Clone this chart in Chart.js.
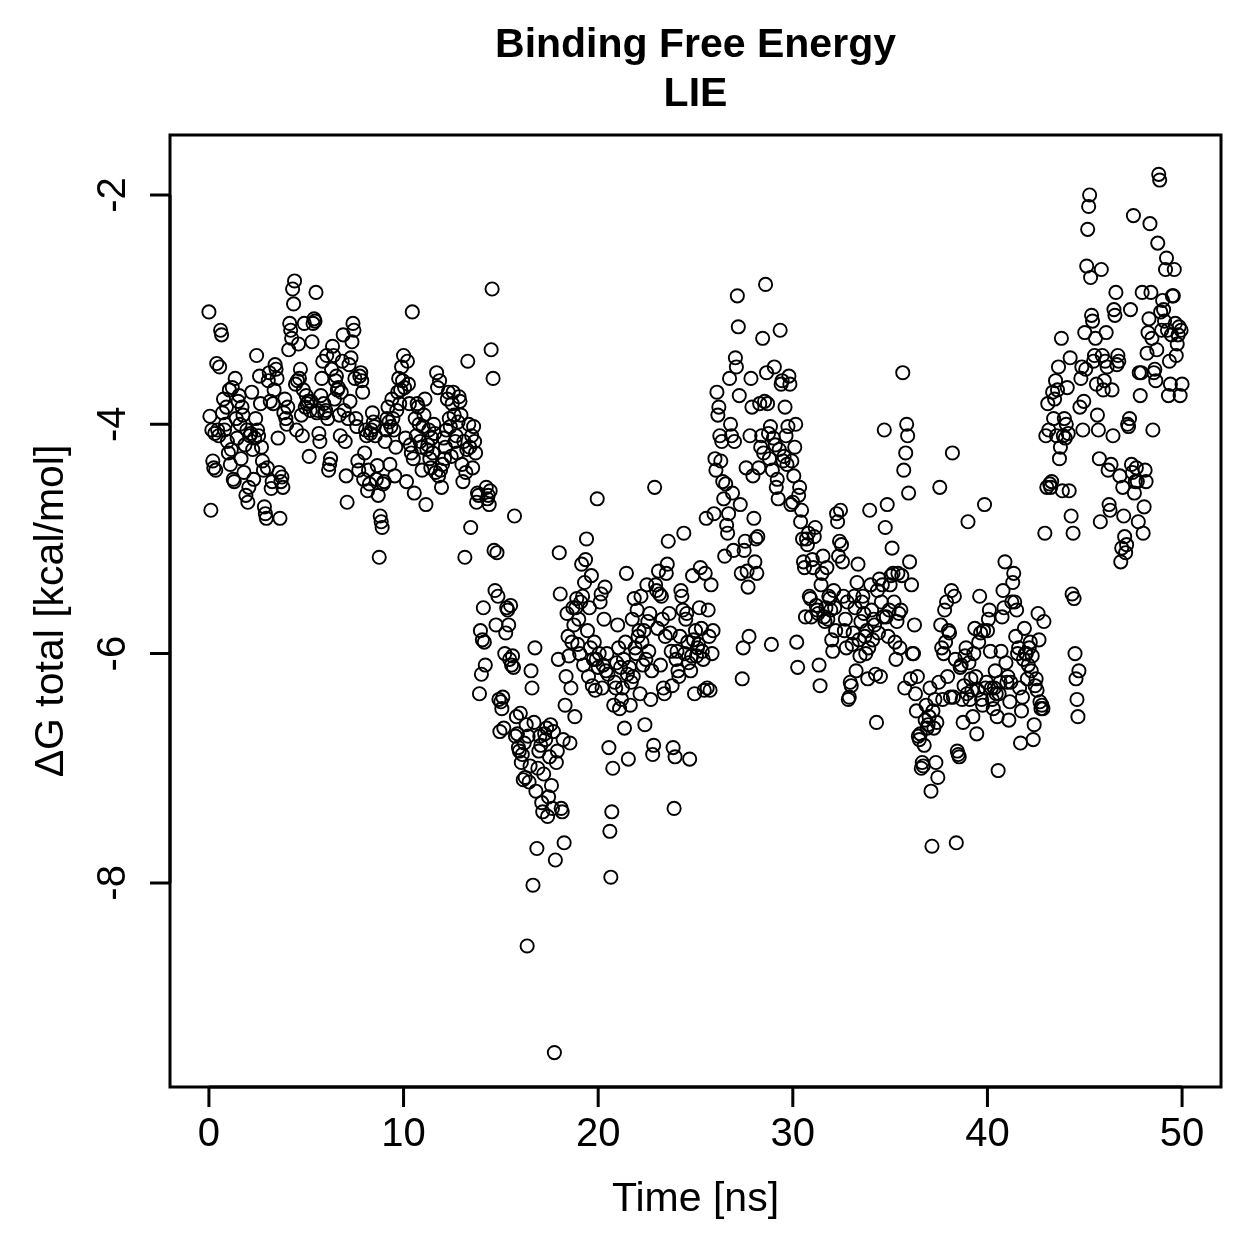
<!DOCTYPE html>
<html>
<head>
<meta charset="utf-8">
<script src="https://cdn.jsdelivr.net/npm/chart.js@4.4.0/dist/chart.umd.min.js"></script>
<style>
  html, body { margin: 0; padding: 0; background: #ffffff; }
  #wrap { width: 1259px; height: 1259px; }
</style>
</head>
<body>
<div id="wrap"><canvas id="lieCanvas" width="1259" height="1259"></canvas></div>
<script>
// Binding free energy (LIE), one value every 0.05 ns
const timeStep = 0.05;

const dgPart1 = [ // 0 - 10 ns
  -3.02, -3.93, -4.75, -4.05, -4.32, -4.38, -4.08, -4.40, -3.47, -4.05, -4.10, -3.50, -3.18, -3.22, -3.90, -3.78, -4.05, -4.00, -3.85, -4.15,
  -4.25, -3.70, -4.35, -4.22, -3.68, -4.48, -4.50, -3.60, -3.95, -4.12, -3.80, -3.75, -4.00, -4.30, -3.85, -3.92, -4.42, -4.18, -4.62, -4.05,
  -4.68, -4.55, -4.10, -4.08, -3.72, -4.22, -4.48, -4.12, -3.95, -3.40, -4.05, -4.10, -3.58, -3.82, -4.20, -4.32, -4.40, -4.72, -4.78, -4.82,
  -4.38, -3.62, -3.55, -3.80, -4.56, -4.50, -3.82, -3.70, -3.48, -3.52, -3.60, -4.12, -4.42, -4.82, -4.50, -4.46, -4.55, -3.90, -3.78, -3.95,
  -4.00, -3.85, -3.35, -3.12, -3.18, -3.25, -2.82, -2.95, -2.75, -3.65, -4.05, -3.62, -3.30, -3.60, -3.52, -3.92, -4.10, -3.70, -3.12, -3.85,
  -3.75, -3.82, -3.80, -4.28, -3.88, -3.80, -3.28, -3.12, -3.08, -3.10, -2.85, -3.90, -3.88, -4.08, -4.15, -3.75, -3.60, -3.45, -3.82, -3.90,
  -3.88, -3.40, -3.95, -4.40, -4.35, -4.30, -3.52, -3.32, -3.40, -3.78, -3.62, -3.58, -3.70, -3.68, -3.92, -4.10, -3.72, -3.45, -3.22, -3.88,
  -4.15, -4.45, -4.68, -3.95, -3.48, -3.80, -3.42, -3.28, -3.12, -3.18, -3.60, -3.95, -4.02, -4.32, -4.40, -3.58, -3.55, -3.62, -3.72, -4.48,
  -4.25, -4.05, -4.10, -4.58, -4.40, -4.52, -4.08, -4.05, -3.90, -3.98, -4.02, -4.10, -4.48, -4.36, -4.62, -5.16, -4.80, -4.85, -4.90, -4.52,
  -4.50, -4.15, -4.05, -3.95, -3.85, -3.98, -4.35, -4.02, -3.78, -3.95, -4.05, -4.45, -4.20, -3.88, -3.72, -3.60, -3.82, -3.70, -3.50, -3.62
];

const dgPart2 = [ // 10 - 20 ns
  -3.40, -3.68, -4.12, -4.50, -3.45, -3.65, -3.82, -4.18, -4.25, -3.02, -4.30, -4.60, -3.95, -4.10, -3.82, -3.85, -4.00, -4.15, -4.20, -4.40,
  -4.02, -3.92, -3.78, -4.70, -4.22, -4.18, -4.05, -4.30, -4.38, -4.12, -4.25, -4.00, -4.08, -4.42, -3.55, -3.68, -4.45, -3.62, -4.40, -4.55,
  -4.35, -4.12, -4.30, -4.20, -4.05, -3.78, -3.72, -3.95, -4.02, -4.28, -3.82, -3.72, -3.92, -4.15, -4.10, -4.25, -3.98, -3.76, -3.80, -3.92,
  -4.35, -4.50, -4.15, -5.16, -4.42, -4.22, -3.45, -4.00, -4.20, -4.90, -4.10, -4.38, -4.02, -4.15, -4.25, -4.68, -4.60, -4.62, -6.35, -5.80,
  -6.18, -5.88, -5.60, -5.90, -6.10, -4.55, -4.65, -4.62, -4.70, -4.58, -3.35, -2.82, -3.60, -5.10, -5.45, -5.75, -5.12, -5.50, -6.40, -6.68,
  -6.42, -6.48, -6.38, -6.65, -6.00, -5.82, -5.60, -5.62, -5.75, -6.05, -5.58, -6.10, -6.02, -6.12, -4.80, -6.72, -6.55, -6.70, -6.82, -6.85,
  -6.52, -6.95, -6.88, -7.10, -6.78, -7.08, -6.62, -8.55, -6.72, -7.12, -6.98, -6.15, -6.30, -8.02, -6.60, -5.95, -7.20, -7.70, -7.00, -6.85,
  -6.72, -6.80, -7.30, -7.38, -7.05, -6.70, -6.75, -6.65, -7.42, -7.25, -6.90, -6.62, -7.15, -7.35, -6.68, -9.48, -7.80, -6.95, -6.85, -6.05,
  -5.12, -5.48, -7.35, -7.38, -6.75, -7.65, -6.45, -6.20, -5.65, -5.85, -6.02, -6.78, -6.30, -5.90, -5.60, -5.75, -6.55, -5.60, -5.52, -5.92,
  -5.70, -6.00, -5.55, -5.22, -5.50, -6.10, -5.38, -5.18, -5.00, -5.80, -6.20, -5.60, -5.95, -5.32, -6.28, -6.05, -5.90, -6.32, -6.05, -4.65
];

const dgPart3 = [ // 20 - 30 ns
  -6.12, -6.00, -5.55, -5.48, -6.30, -6.10, -5.70, -5.42, -6.15, -6.00, -6.18, -6.82, -7.55, -7.95, -7.38, -7.00, -6.45, -6.25, -6.30, -6.08,
  -5.75, -5.95, -6.48, -6.12, -6.40, -6.30, -6.05, -6.65, -5.90, -5.30, -6.18, -6.92, -6.12, -6.45, -6.25, -5.70, -6.20, -5.52, -5.95, -6.00,
  -5.62, -5.85, -5.80, -6.35, -5.50, -5.90, -6.10, -5.80, -6.62, -6.05, -5.40, -5.72, -5.98, -5.65, -6.40, -6.15, -6.88, -6.80, -4.55, -5.40,
  -5.45, -5.78, -5.28, -5.48, -6.10, -5.50, -5.70, -6.30, -6.35, -5.85, -5.30, -5.22, -5.02, -5.65, -5.82, -5.98, -6.28, -6.82, -7.35, -6.90,
  -6.05, -5.98, -6.15, -6.20, -5.85, -5.45, -5.50, -5.62, -4.95, -6.00, -5.70, -5.65, -5.90, -6.08, -6.92, -6.15, -6.02, -5.32, -5.88, -6.35,
  -5.80, -6.02, -5.95, -5.92, -5.60, -5.25, -5.78, -5.98, -6.05, -6.32, -5.30, -4.82, -6.30, -5.62, -5.85, -6.32, -5.40, -6.00, -5.80, -4.78,
  -4.30, -4.40, -3.72, -3.92, -3.85, -4.10, -4.32, -4.15, -4.50, -4.65, -5.15, -4.52, -4.88, -4.95, -4.78, -3.60, -4.00, -4.10, -4.60, -5.10,
  -4.15, -3.42, -3.50, -2.88, -3.15, -3.75, -4.70, -5.30, -6.22, -5.95, -5.10, -5.02, -4.38, -5.28, -5.42, -5.85, -4.10, -3.60, -3.85, -4.45,
  -4.82, -5.20, -5.00, -5.30, -4.98, -4.38, -3.82, -4.20, -4.10, -3.25, -4.25, -3.80, -2.78, -3.55, -3.82, -4.08, -4.30, -4.02, -5.92, -4.40,
  -4.12, -3.50, -4.18, -4.55, -4.48, -4.65, -4.22, -3.18, -3.65, -3.62, -4.32, -4.28, -3.85, -4.10, -4.35, -4.02, -3.58, -3.65, -4.70, -4.32
];

const dgPart4 = [ // 30 - 40 ns
  -4.68, -4.45, -4.20, -4.00, -5.90, -6.12, -4.62, -4.55, -4.85, -4.75, -5.00, -5.20, -5.25, -5.68, -5.00, -5.05, -4.95, -5.50, -5.52, -5.68,
  -5.18, -5.25, -4.98, -4.90, -5.58, -5.62, -5.65, -6.10, -6.28, -5.40, -5.30, -5.15, -5.68, -5.72, -5.60, -5.25, -5.70, -5.50, -5.52, -5.62,
  -5.88, -5.98, -5.45, -5.60, -5.80, -4.78, -4.85, -5.15, -5.02, -4.75, -5.05, -5.20, -5.50, -5.80, -5.70, -5.95, -5.55, -6.40, -6.38, -6.25,
  -6.28, -5.92, -5.82, -5.50, -5.60, -6.15, -5.38, -5.22, -5.88, -6.02, -5.72, -5.55, -5.50, -5.65, -5.85, -6.00, -5.80, -6.22, -5.95, -4.75,
  -5.40, -5.62, -5.88, -5.70, -5.75, -6.18, -6.60, -5.45, -5.82, -5.35, -6.20, -5.55, -5.40, -5.68, -4.05, -4.90, -5.68, -4.70, -5.85, -5.62,
  -5.40, -5.32, -5.08, -5.30, -5.55, -5.90, -6.05, -5.72, -5.30, -5.65, -5.95, -5.62, -5.32, -3.55, -4.40, -6.30, -4.25, -4.00, -4.10, -4.60,
  -5.20, -6.22, -5.40, -6.00, -6.00, -5.75, -6.35, -6.50, -6.20, -6.72, -6.75, -6.70, -7.00, -6.95, -6.98, -6.80, -6.58, -6.45, -6.65, -6.62,
  -6.55, -6.30, -7.20, -7.68, -6.50, -6.65, -6.40, -6.95, -6.60, -7.08, -6.25, -4.55, -5.75, -5.95, -6.40, -6.00, -5.62, -5.90, -5.55, -6.20,
  -5.80, -5.82, -6.38, -5.45, -4.25, -6.38, -5.50, -6.05, -7.65, -6.85, -6.88, -6.90, -6.12, -6.10, -6.40, -6.60, -6.28, -6.02, -5.95, -6.35,
  -4.85, -6.08, -6.40, -6.22, -6.32, -6.55, -6.00, -5.78, -6.20, -6.70, -6.32, -5.90, -5.50, -5.82, -6.40, -6.45, -5.80, -4.70, -6.30, -6.25
];

const dgPart5 = [ // 40 - 50 ns
  -5.80, -5.70, -5.62, -5.98, -6.30, -6.40, -6.48, -6.30, -6.15, -6.35, -6.55, -7.02, -6.35, -6.25, -5.98, -5.68, -5.45, -5.60, -5.20, -6.08,
  -6.25, -6.20, -6.58, -6.42, -6.25, -5.55, -5.38, -5.30, -5.55, -5.85, -5.62, -6.00, -5.95, -6.30, -6.78, -6.50, -6.38, -6.05, -5.78, -6.00,
  -6.00, -6.22, -6.10, -5.95, -5.90, -6.15, -6.02, -6.75, -6.62, -6.28, -6.22, -6.32, -5.65, -5.88, -6.42, -6.48, -6.45, -6.48, -5.72, -4.95,
  -4.10, -4.55, -3.82, -4.05, -4.52, -4.55, -4.50, -3.72, -3.95, -3.78, -3.62, -4.10, -3.70, -3.50, -4.30, -4.20, -3.25, -4.58, -4.10, -3.95,
  -4.12, -4.00, -3.68, -4.08, -4.58, -3.42, -4.80, -5.48, -4.95, -5.52, -6.00, -6.22, -6.40, -6.55, -6.15, -3.85, -3.60, -3.50, -4.05, -3.80,
  -3.20, -3.52, -2.62, -2.30, -2.10, -2.00, -2.72, -3.05, -3.10, -3.45, -3.40, -3.25, -3.65, -3.92, -4.05, -4.30, -4.85, -2.65, -3.40, -3.70,
  -3.62, -3.45, -3.20, -3.50, -4.40, -4.70, -4.75, -4.35, -3.70, -4.10, -3.00, -3.05, -2.85, -3.48, -3.40, -3.45, -4.45, -5.20, -5.08, -4.55,
  -4.80, -4.98, -5.12, -5.05, -4.00, -4.02, -3.95, -3.00, -4.35, -4.42, -2.18, -4.60, -4.50, -4.38, -4.50, -4.85, -3.55, -3.75, -3.55, -2.85,
  -4.95, -4.72, -4.40, -4.50, -3.38, -3.20, -3.08, -2.25, -2.85, -3.25, -4.05, -3.55, -3.52, -3.62, -3.35, -2.42, -1.82, -1.87, -3.02, -3.18,
  -2.92, -3.00, -3.10, -2.65, -2.55, -3.18, -3.75, -3.45, -3.65, -3.22, -2.88, -2.88, -2.65, -3.12, -3.40, -3.30, -3.22, -3.15, -3.75, -3.18,
  -3.65
];

const xTicks = [0, 10, 20, 30, 40, 50];
const yTicks = [-2, -4, -6, -8];
const xRange = [-2, 52];
const yRange = [-9.78, -1.477];

const titleLines = ['Binding Free Energy', 'LIE'];
const xTitle = 'Time [ns]';
const yTitle = '\u0394G total [kcal/mol]';

const dgValues = [].concat(dgPart1, dgPart2, dgPart3, dgPart4, dgPart5);
const points = dgValues.map((v, i) => ({ x: +(i * timeStep).toFixed(2), y: v }));

const FONT = '"Liberation Sans", Arial, Helvetica, sans-serif';

// R-style box, axes, labels and title
const baseGraphics = {
    id: 'baseGraphics',
    afterDraw(chart) {
        const ctx = chart.ctx;
        const area = chart.chartArea;
        const sx = chart.scales.x;
        const sy = chart.scales.y;
        const tick = 20;

        ctx.save();
        ctx.strokeStyle = '#000';
        ctx.fillStyle = '#000';
        ctx.lineWidth = 3;
        ctx.strokeRect(area.left, area.top, area.right - area.left, area.bottom - area.top);

        // x axis
        ctx.beginPath();
        ctx.moveTo(sx.getPixelForValue(xTicks[0]), area.bottom);
        ctx.lineTo(sx.getPixelForValue(xTicks[xTicks.length - 1]), area.bottom);
        xTicks.forEach(t => {
            const px = sx.getPixelForValue(t);
            ctx.moveTo(px, area.bottom);
            ctx.lineTo(px, area.bottom + tick);
        });
        ctx.stroke();
        ctx.font = '40px ' + FONT;
        ctx.textAlign = 'center';
        ctx.textBaseline = 'middle';
        xTicks.forEach(t => {
            ctx.fillText(String(t), sx.getPixelForValue(t), area.bottom + 48);
        });

        // y axis
        ctx.beginPath();
        ctx.moveTo(area.left, sy.getPixelForValue(yTicks[0]));
        ctx.lineTo(area.left, sy.getPixelForValue(yTicks[yTicks.length - 1]));
        yTicks.forEach(t => {
            const py = sy.getPixelForValue(t);
            ctx.moveTo(area.left, py);
            ctx.lineTo(area.left - tick, py);
        });
        ctx.stroke();
        yTicks.forEach(t => {
            ctx.save();
            ctx.translate(area.left - 56, sy.getPixelForValue(t));
            ctx.rotate(-Math.PI / 2);
            ctx.fillText(String(t), 0, 0);
            ctx.restore();
        });

        // axis titles
        ctx.font = '41px ' + FONT;
        ctx.fillText(xTitle, (area.left + area.right) / 2, area.bottom + 113);
        ctx.save();
        ctx.translate(area.left - 118, (area.top + area.bottom) / 2);
        ctx.rotate(-Math.PI / 2);
        ctx.fillText(yTitle, 0, 0);
        ctx.restore();

        // main title
        ctx.font = 'bold 41px ' + FONT;
        ctx.fillText(titleLines[0], (area.left + area.right) / 2, 46);
        ctx.fillText(titleLines[1], (area.left + area.right) / 2, 95);
        ctx.restore();
    }
};

const whiteBg = {
    id: 'whiteBg',
    beforeDraw(chart) {
        const ctx = chart.ctx;
        ctx.save();
        ctx.fillStyle = '#fff';
        ctx.fillRect(0, 0, chart.width, chart.height);
        ctx.restore();
    }
};

new Chart(document.getElementById('lieCanvas'), {
    type: 'scatter',
    data: {
        datasets: [{
            label: 'dG total',
            data: points,
            borderColor: '#000',
            backgroundColor: 'rgba(0,0,0,0)',
            borderWidth: 1.9,
            pointRadius: 6.6,
            pointStyle: 'circle'
        }]
    },
    options: {
        responsive: false,
        animation: false,
        layout: { padding: { left: 170, top: 135, right: 38, bottom: 172 } },
        plugins: {
            legend: { display: false },
            tooltip: { enabled: false },
            title: { display: false }
        },
        scales: {
            x: { type: 'linear', min: xRange[0], max: xRange[1], display: false },
            y: { type: 'linear', min: yRange[0], max: yRange[1], display: false }
        }
    },
    plugins: [whiteBg, baseGraphics]
});
</script>
</body>
</html>
